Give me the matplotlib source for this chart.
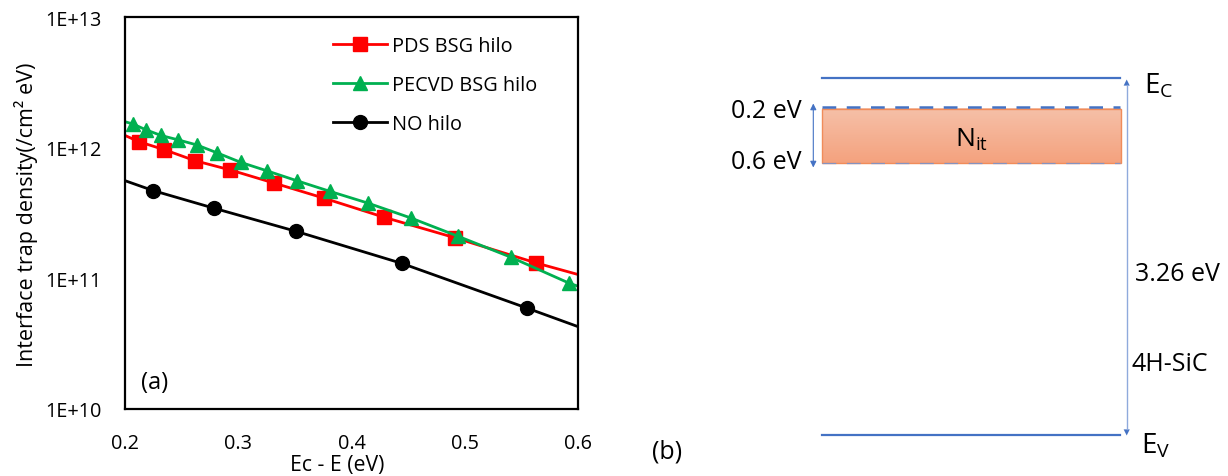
import numpy as np
import matplotlib
matplotlib.use("Agg")
import matplotlib.pyplot as plt
from matplotlib.patches import Rectangle, FancyArrowPatch
from matplotlib.colors import LinearSegmentedColormap
from matplotlib.ticker import NullLocator

plt.rcParams['font.family'] = ['Open Sans', 'DejaVu Sans']
plt.rcParams['mathtext.fontset'] = 'custom'
plt.rcParams['mathtext.rm'] = 'Open Sans'
plt.rcParams['mathtext.it'] = 'Open Sans:italic'

# ---- (a) interface trap density vs. energy below the conduction band ----
energy_pds = [0.2124, 0.2347, 0.2618, 0.2930, 0.3313, 0.3760, 0.4290, 0.4917, 0.5632]
dit_pds = [1.11e12, 9.65e11, 7.95e11, 6.75e11, 5.37e11, 4.10e11, 2.93e11, 2.04e11, 1.31e11]
edge_pds = [1.24e12, 1.07e11]

energy_pecvd = [0.2068, 0.2185, 0.2318, 0.2465, 0.2633, 0.2810, 0.3022, 0.3251,
                0.3516, 0.3810, 0.4143, 0.4523, 0.4940, 0.5408, 0.5920]
dit_pecvd = [1.52e12, 1.37e12, 1.24e12, 1.15e12, 1.05e12, 9.15e11, 7.72e11, 6.66e11,
             5.59e11, 4.63e11, 3.77e11, 2.90e11, 2.10e11, 1.45e11, 9.2e10]
edge_pecvd = [1.58e12, 8.7e10]

energy_no = [0.2250, 0.2786, 0.3510, 0.4446, 0.5547]
dit_no = [4.69e11, 3.44e11, 2.29e11, 1.30e11, 5.93e10]
edge_no = [5.59e11, 4.27e10]

x_range = [0.2, 0.6]
y_ticks = [1e10, 1e11, 1e12, 1e13]
y_tick_labels = ['1E+10', '1E+11', '1E+12', '1E+13']
x_ticks = [0.2, 0.3, 0.4, 0.5, 0.6]
x_tick_labels = ['0.2', '0.3', '0.4', '0.5', '0.6']

W, H = 1228, 477
fig = plt.figure(figsize=(W / 100, H / 100), dpi=100)
ax = fig.add_axes([125 / W, 1 - 410 / H, 453 / W, 392 / H])


def curve(xs, ys, edge):
    x = [x_range[0]] + list(xs) + [x_range[1]]
    y = [edge[0]] + list(ys) + [edge[1]]
    return x, y


series = [
    (energy_pds, dit_pds, edge_pds, '#FF0000', 's', 9.5, 'PDS BSG hilo'),
    (energy_pecvd, dit_pecvd, edge_pecvd, '#00B050', '^', 10.5, 'PECVD BSG hilo'),
    (energy_no, dit_no, edge_no, '#000000', 'o', 10.0, 'NO hilo'),
]
for xs, ys, edge, color, marker, ms, label in series:
    cx, cy = curve(xs, ys, edge)
    ax.plot(cx, cy, color=color, lw=2.0, marker=marker, ms=ms,
            markevery=list(range(1, len(cx) - 1)), label=label,
            solid_joinstyle='round')

ax.set_yscale('log')
ax.set_xlim(*x_range)
ax.set_ylim(y_ticks[0], y_ticks[-1])
ax.set_yticks(y_ticks)
ax.set_yticklabels(y_tick_labels)
ax.yaxis.set_minor_locator(NullLocator())
ax.set_xticks(x_ticks)
ax.set_xticklabels(x_tick_labels)
ax.tick_params(length=0, labelsize=14.3)
ax.tick_params(axis='y', pad=17)
ax.tick_params(axis='x', pad=17)
for sp in ax.spines.values():
    sp.set_linewidth(1.6)
    sp.set_color('black')

leg = ax.legend(loc='upper left', bbox_to_anchor=(0.46, 0.952), frameon=False,
                fontsize=14.3, handlelength=2.7, handletextpad=0.25,
                labelspacing=0.97, borderpad=0, borderaxespad=0)

ax.text(0.066, 0.07, '(a)', transform=ax.transAxes, fontsize=17,
        ha='center', va='center')

fig.text(26 / W, 1 - 215 / H, 'Interface trap density(/cm² eV)', rotation=90,
         ha='center', va='center', fontsize=15.5)
fig.text(337 / W, 1 - 466 / H, 'Ec - E (eV)', ha='center', va='center',
         fontsize=15.3)

# ---- (b) band diagram of 4H-SiC with the trap region ----
bx = fig.add_axes([0, 0, 1, 1])
bx.set_xlim(0, W)
bx.set_ylim(H, 0)
bx.axis('off')
bx.patch.set_alpha(0)

blue = '#4472C4'
x0, x1 = 822, 1120
bx.plot([x0, x1], [79, 79], color=blue, lw=1.6)
bx.plot([x0, x1], [436, 436], color=blue, lw=1.6)

grad = LinearSegmentedColormap.from_list('nit', ['#F6C0A8', '#F4A27E'])
bx.imshow(np.linspace(0, 1, 64).reshape(-1, 1), cmap=grad, aspect='auto',
          extent=[x0, x1 + 1, 164, 109.5], zorder=1)
bx.add_patch(Rectangle((x0, 109.5), x1 + 1 - x0, 164 - 109.5, fill=False,
                       edgecolor='#F08C5A', lw=1.0, zorder=2))
bx.plot([x0, x1], [107.7, 107.7], color=blue, lw=1.8, dashes=(5.5, 4.2), zorder=3)
bx.plot([x0, x1], [164.3, 164.3], color='#8593C0', lw=0.9, dashes=(11, 8.5), zorder=3)

bx.text(971.5, 140, r'$\mathrm{N_{it}}$', ha='center', va='center', fontsize=19)

bx.add_patch(FancyArrowPatch((813.3, 168.5), (813.3, 104.5), arrowstyle='<|-|>',
                             mutation_scale=9, color=blue, lw=0.8,
                             shrinkA=0, shrinkB=0))

bx.plot([1126.7, 1126.7], [86, 430], color='#8FAADC', lw=1.0)
bx.add_patch(FancyArrowPatch((1126.7, 436.5), (1126.7, 80.5), arrowstyle='<|-|>',
                             mutation_scale=11, color=blue, lw=0.0,
                             shrinkA=0, shrinkB=0))

bx.text(801.7, 111.5, '0.2 eV', ha='right', va='center', fontsize=18)
bx.text(801.7, 162.5, '0.6 eV', ha='right', va='center', fontsize=18)
bx.text(1144, 86, r'$\mathrm{E_C}$', ha='left', va='center', fontsize=20)
bx.text(1141, 446, r'$\mathrm{E_V}$', ha='left', va='center', fontsize=20)
bx.text(1135, 275, '3.26 eV', ha='left', va='center', fontsize=18)
bx.text(1131.5, 365, '4H-SiC', ha='left', va='center', fontsize=18)
bx.text(667, 452, '(b)', ha='center', va='center', fontsize=18)

fig.savefig('out.png', dpi=100)
